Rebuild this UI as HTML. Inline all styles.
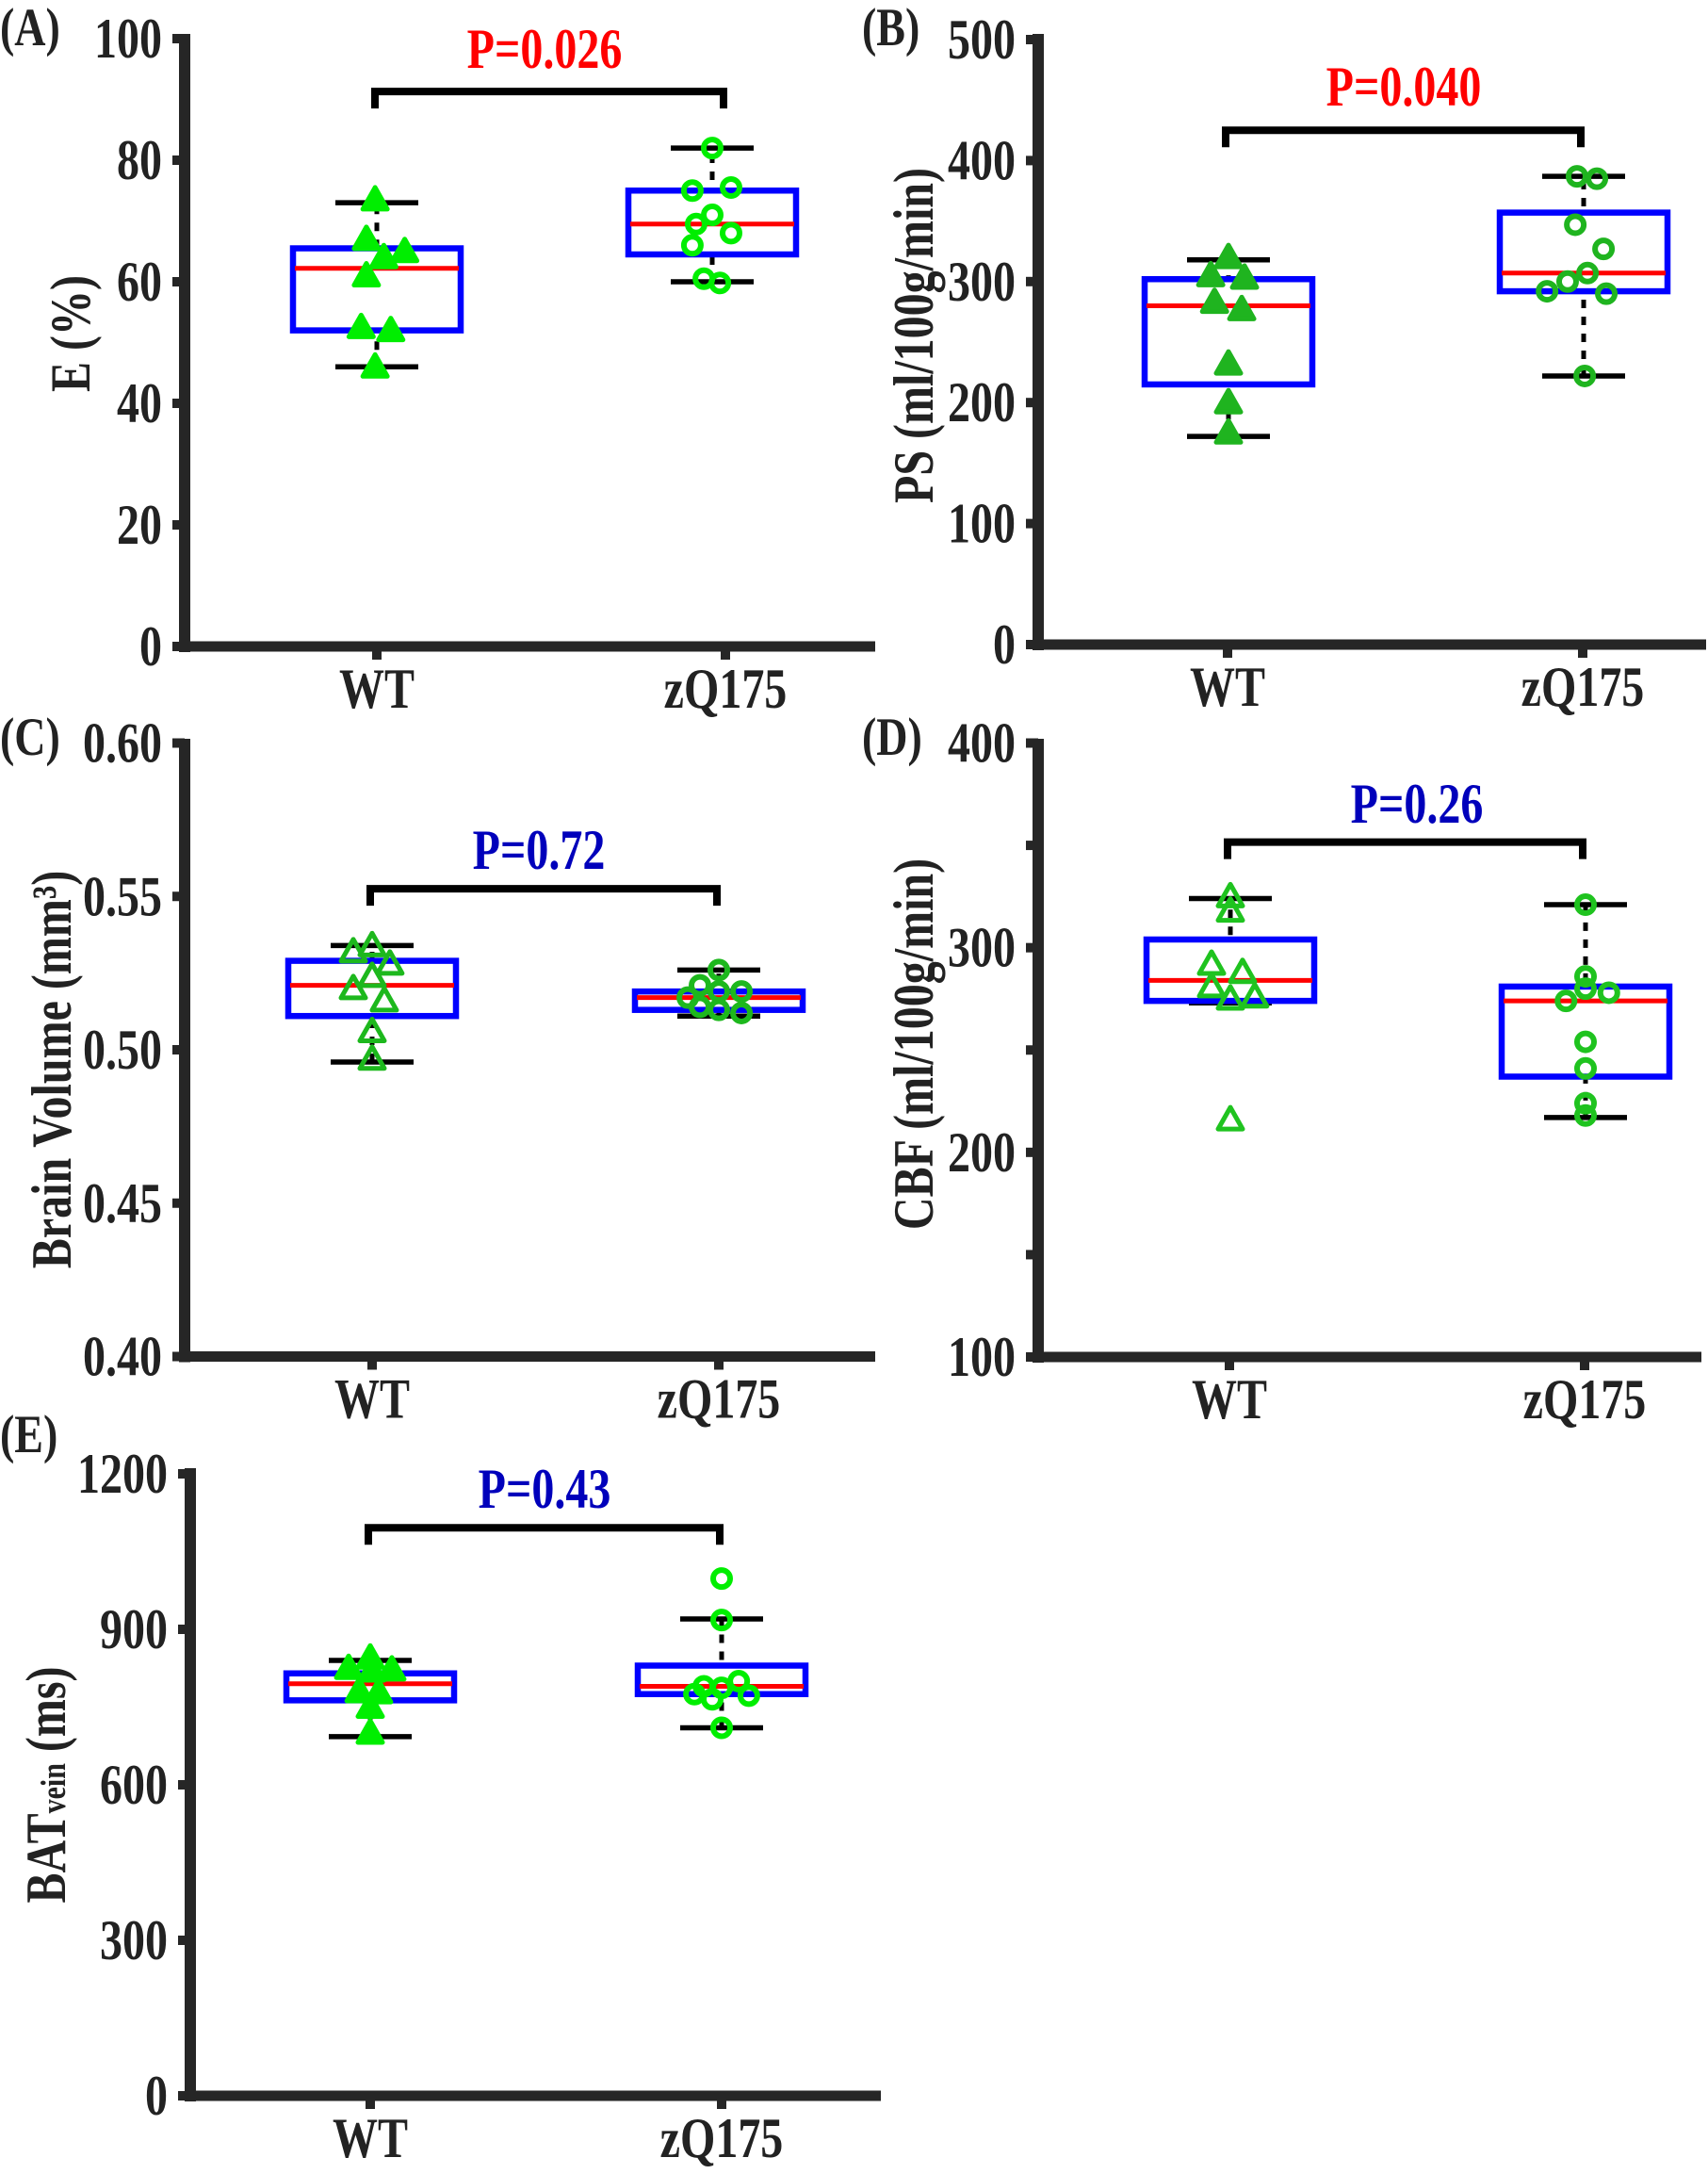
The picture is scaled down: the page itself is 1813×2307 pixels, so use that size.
<!DOCTYPE html>
<html><head><meta charset="utf-8"><style>
html,body{margin:0;padding:0;background:#fff;}
svg{display:block;}
text{font-family:"Liberation Serif",serif;font-weight:bold;fill:#222;}
</style></head><body>
<svg id="fig" width="1813" height="2307" viewBox="0 0 1813 2307" xmlns="http://www.w3.org/2000/svg"></svg>
<script>
// ---- data ----
const categories = ["WT", "zQ175"];
const pLabels = ["P=0.026", "P=0.040", "P=0.72", "P=0.26", "P=0.43"];
const bracketVals = [91.3, 425, 0.5525, 351.6, 1096];
// panel A: E (%)
const aWT = [73.5, 67, 64, 65, 61, 52.5, 52, 46];
const aWTJit = [-0.005, -0.03, 0.02, 0.08, -0.03, -0.045, 0.04, -0.005];
const aZQ = [82, 75, 75.5, 71, 69.5, 68, 66, 60.5, 59.8];
const aZQJit = [0, -0.057, 0.054, 0, -0.046, 0.054, -0.057, -0.024, 0.022];
const aBoxWT = [46, 52, 62.2, 65.5, 73];
const aBoxZQ = [60, 64.5, 69.5, 75, 82];
const aTicks = [0, 20, 40, 60, 80, 100];
// panel B: PS
const bWT = [320, 305, 303, 283, 277, 232, 200, 175];
const bWTJit = [0, -0.051, 0.046, -0.04, 0.038, 0, 0, 0];
const bZQ = [387, 385, 347, 327, 307, 300, 292, 290, 222];
const bZQJit = [-0.019, 0.038, -0.024, 0.057, 0.011, -0.046, -0.105, 0.065, 0.003];
const bBoxWT = [172, 215, 280, 302, 318];
const bBoxZQ = [222, 292, 307, 357, 387];
const bTicks = [0, 100, 200, 300, 400, 500];
// panel C: Brain volume
const cWT = [0.534, 0.532, 0.528, 0.524, 0.520, 0.516, 0.506, 0.497];
const cWTJit = [0, -0.054, 0.051, 0, -0.054, 0.035, 0, 0];
const cZQ = [0.526, 0.521, 0.519, 0.519, 0.517, 0.514, 0.513, 0.512];
const cZQJit = [0, -0.054, 0, 0.065, -0.089, -0.054, 0, 0.065];
const cBoxWT = [0.496, 0.511, 0.521, 0.529, 0.534];
const cBoxZQ = [0.511, 0.513, 0.517, 0.519, 0.526];
const cTicks = [0.40, 0.45, 0.50, 0.55, 0.60];
const cTickLabels = ["0.40", "0.45", "0.50", "0.55", "0.60"];
// panel D: CBF
const dWT = [325, 318, 292, 288, 281, 275, 276, 216];
const dWTJit = [0, 0, -0.054, 0.035, -0.054, 0, 0.07, 0];
const dZQ = [321, 286, 280, 278, 274, 254, 241, 224, 218];
const dZQJit = [0, 0, 0, 0.067, -0.056, 0, 0, 0, 0];
const dBoxWT = [273, 274, 284, 304, 324];
const dBoxZQ = [217, 237, 274, 281, 321];
const dTicks = [100, 200, 300, 400];
const dMinorTicks = [150, 250, 350];
// panel E: BAT vein
const eWT = [845, 825, 822, 820, 780, 778, 750, 700];
const eWTJit = [0, -0.062, 0.062, 0.005, -0.032, 0.024, 0, 0];
const eZQ = [998, 918, 800, 790, 787, 775, 772, 765, 710];
const eZQJit = [0, 0, 0.049, -0.051, 0, -0.078, 0.078, -0.027, 0];
const eBoxWT = [693, 763, 795, 815, 840];
const eBoxZQ = [710, 775, 790, 830, 920];
const eTicks = [0, 300, 600, 900, 1200];

const NS = "http://www.w3.org/2000/svg";
const svg = document.getElementById("fig");
function mk(tag, attrs, parent) {
  const e = document.createElementNS(NS, tag);
  for (const k in attrs) e.setAttribute(k, attrs[k]);
  (parent || svg).appendChild(e);
  return e;
}
const AX = "#262626";
const SY = 1.25;
function txt(parent, x, y, size, anchor, str, extraStyle) {
  const t = mk("text", {x:0, y:0, "font-size":size, "text-anchor":anchor,
    transform:`translate(${x},${y}) scale(1,${SY})`}, parent);
  if (extraStyle) t.setAttribute("style", extraStyle);
  t.textContent = str;
  return t;
}

const panels = [
  {id:"a", letter:"(A)", lx:0, ly:48, axisX:196, yTopPx:41, yBotPx:686, vmin:0, vmax:100, xRight:929,
   tickX:[400,770], boxX:[400,756], ticks:aTicks, tickLabels:aTicks.map(String), minor:[],
   wt:aWT, wtJ:aWTJit, zq:aZQ, zqJ:aZQJit, bWT:aBoxWT, bZQ:aBoxZQ, pCol:"#ff0000", pX:578, pY:72,
   ylab:"E (%)", ylx:75, yly:354, tri:"#00ee00", triFill:true, circ:"#00ee00", axisTop:36},
  {id:"b", letter:"(B)", lx:915, ly:48, axisX:1102, yTopPx:42, yBotPx:684, vmin:0, vmax:500, xRight:1811,
   tickX:[1303,1680], boxX:[1304,1681], ticks:bTicks, tickLabels:bTicks.map(String), minor:[],
   wt:bWT, wtJ:bWTJit, zq:bZQ, zqJ:bZQJit, bWT:bBoxWT, bZQ:bBoxZQ, pCol:"#ff0000", pX:1490, pY:112,
   ylab:"PS (ml/100g/min)", ylx:970, yly:356, tri:"#1fb41f", triFill:true, circ:"#1fb41f", axisTop:36},
  {id:"c", letter:"(C)", lx:0, ly:801, axisX:196, yTopPx:788.5, yBotPx:1439.5, vmin:0.40, vmax:0.60, xRight:929,
   tickX:[395,763], boxX:[395,763], ticks:cTicks, tickLabels:cTickLabels, minor:[],
   wt:cWT, wtJ:cWTJit, zq:cZQ, zqJ:cZQJit, bWT:cBoxWT, bZQ:cBoxZQ, pCol:"#0000bb", pX:572, pY:922,
   ylab:"Brain Volume (mm³)", ylx:55, yly:1135, tri:"#1db81d", triFill:false, circ:"#1db81d", axisTop:784},
  {id:"d", letter:"(D)", lx:915, ly:801, axisX:1102, yTopPx:788.5, yBotPx:1440, vmin:100, vmax:400, xRight:1806,
   tickX:[1305,1682], boxX:[1306,1683], ticks:dTicks, tickLabels:dTicks.map(String), minor:dMinorTicks,
   wt:dWT, wtJ:dWTJit, zq:dZQ, zqJ:dZQJit, bWT:dBoxWT, bZQ:dBoxZQ, pCol:"#0000bb", pX:1504, pY:873,
   ylab:"CBF (ml/100g/min)", ylx:970, yly:1108, tri:"#1fc31f", triFill:false, circ:"#1fc31f", axisTop:784},
  {id:"e", letter:"(E)", lx:0, ly:1541, axisX:202, yTopPx:1564, yBotPx:2224, vmin:0, vmax:1200, xRight:935,
   tickX:[393,766], boxX:[393,766], ticks:eTicks, tickLabels:eTicks.map(String), minor:[],
   wt:eWT, wtJ:eWTJit, zq:eZQ, zqJ:eZQJit, bWT:eBoxWT, bZQ:eBoxZQ, pCol:"#0000bb", pX:578, pY:1600,
   ylab:"BAT", ylx:49, yly:1894, tri:"#00ee00", triFill:true, circ:"#00ee00", axisTop:1558, sub:true}
];

function drawPanel(P) {
  const g = mk("g", {});
  
  
  const y = v => P.yBotPx - (v - P.vmin) / (P.vmax - P.vmin) * (P.yBotPx - P.yTopPx);

  const lt = txt(g, P.lx, P.ly, 46, "start", P.letter);
  
  

  const ya = mk("line", {x1:P.axisX, y1:P.axisTop, x2:P.axisX, y2:P.yBotPx+6, stroke:AX, "stroke-width":12}, g);
  
  
  const xa = mk("line", {x1:P.axisX-6, y1:P.yBotPx, x2:P.xRight, y2:P.yBotPx, stroke:AX, "stroke-width":11}, g);
  
  

  P.ticks.forEach((t, i) => {
    const ty = y(t);
    const tk = mk("line", {x1:P.axisX-13, y1:ty, x2:P.axisX, y2:ty, stroke:AX, "stroke-width":10}, g);
    
    
    const tl = txt(g, P.axisX-24, ty+20, 48, "end", P.tickLabels[i]);
    
    
  });
  P.minor.forEach(t => {
    const ty = y(t);
    const tk = mk("line", {x1:P.axisX-13, y1:ty, x2:P.axisX, y2:ty, stroke:AX, "stroke-width":10}, g);
    
    
  });
  categories.forEach((c, i) => {
    const tx = P.tickX[i];
    const tk = mk("line", {x1:tx, y1:P.yBotPx, x2:tx, y2:P.yBotPx+14, stroke:AX, "stroke-width":10}, g);
    
    
    const tl = txt(g, tx, P.yBotPx+65, 48, "middle", c);
    
    
  });

  const yl = mk("text", {x:0, y:0, "font-size":48, "text-anchor":"middle",
    transform:`translate(${P.ylx + 20},${P.yly}) rotate(-90) scale(1,${SY})`}, g);
  
  
  if (P.sub) {
    yl.textContent = "BAT";
    const s = mk("tspan", {"font-size":30}, yl);
    s.textContent = "vein";
    const s2 = mk("tspan", {"font-size":48}, yl);
    s2.textContent = " (ms)";
  } else {
    yl.textContent = P.ylab;
  }

  [P.bWT, P.bZQ].forEach((b, i) => {
    const cx = P.boxX[i];
    const bg = mk("g", {}, g);
    
    
    mk("line", {x1:cx, y1:y(b[0]), x2:cx, y2:y(b[4]), stroke:"#000", "stroke-width":5, "stroke-dasharray":"9 9"}, bg);
    [b[0], b[4]].forEach(v => {
      const cap = mk("line", {x1:cx-44, y1:y(v), x2:cx+44, y2:y(v), stroke:"#000", "stroke-width":5.5}, bg);
      
      
    });
    mk("rect", {x:cx-89, y:y(b[3]), width:178, height:y(b[1])-y(b[3]), fill:"#fff", stroke:"#0000ff", "stroke-width":6.5}, bg);
    const med = mk("line", {x1:cx-87, y1:y(b[2]), x2:cx+87, y2:y(b[2]), stroke:"#ff0000", "stroke-width":5}, bg);
    
    
  });

  P.wt.forEach((v, i) => {
    const px = P.boxX[0] + P.wtJ[i] * 370;
    const py = y(v);
    const t = mk("polygon", {points:`${px},${py-13} ${px-13},${py+10} ${px+13},${py+10}`,
      fill:P.triFill ? P.tri : "none", stroke:P.tri, "stroke-width":5, "stroke-linejoin":"round"}, g);
    
    
  });
  P.zq.forEach((v, i) => {
    const px = P.boxX[1] + P.zqJ[i] * 370;
    const py = y(v);
    const c = mk("circle", {cx:px, cy:py, r:9, fill:"none", stroke:P.circ, "stroke-width":6}, g);
    
    
  });

  const bidx = panels.indexOf(P);
  const by = y(bracketVals[bidx]);
  const br = mk("polyline", {points:`${P.tickX[0]-2},${by+18} ${P.tickX[0]-2},${by} ${P.tickX[1]-2},${by} ${P.tickX[1]-2},${by+18}`,
    fill:"none", stroke:"#000", "stroke-width":8}, g);
  
  
  const pt = txt(g, P.pX, P.pY, 48, "middle", pLabels[bidx], `fill:${P.pCol}`);
  
  
}
panels.forEach(drawPanel);
</script>
</body></html>
